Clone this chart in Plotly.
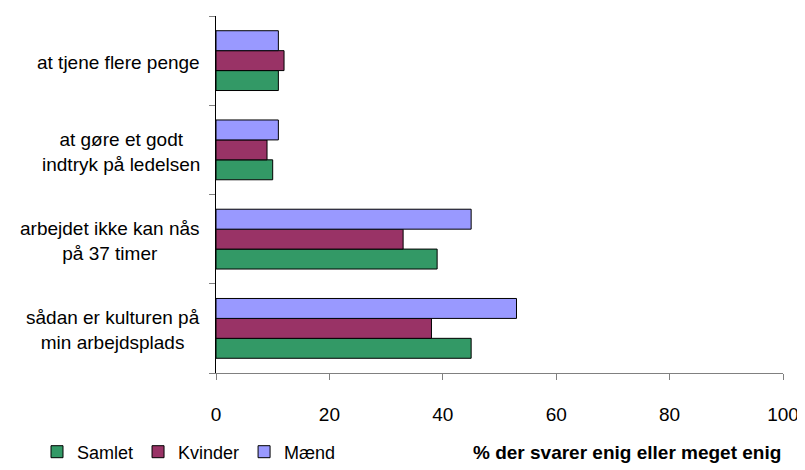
import plotly.graph_objects as go

# categories, top to bottom as they appear in the chart
categories = [
    "at tjene flere penge",
    "at gøre et godt<br>indtryk på ledelsen",
    "arbejdet ikke kan nås<br>på 37 timer",
    "sådan er kulturen på<br>min arbejdsplads",
]
samlet = [11, 10, 39, 45]
kvinder = [12, 9, 33, 38]
maend = [11, 11, 45, 53]

x_ticks = [0, 20, 40, 60, 80, 100]
x_title = "% der svarer enig eller meget enig"

FONT = "Liberation Sans, Arial, sans-serif"

series = [
    ("Samlet", samlet, "#339966"),
    ("Kvinder", kvinder, "#993366"),
    ("Mænd", maend, "#9999FF"),
]

fig = go.Figure()
for name, values, color in series:
    fig.add_trace(go.Bar(
        y=categories,
        x=values,
        orientation="h",
        name=name,
        marker=dict(color=color, line=dict(color="#000000", width=1)),
    ))

# category labels, centred lines, right aligned block
for cat in categories:
    fig.add_annotation(
        x=0, xref="paper", y=cat, yref="y",
        text=cat, showarrow=False,
        xanchor="right", yanchor="middle", align="center",
        xshift=-14, yshift=-2,
        font=dict(family=FONT, size=19, color="#000000"),
    )

fig.add_annotation(
    x=1, xref="paper", y=-0.2213, yref="paper",
    text="<b>" + x_title + "</b>", showarrow=False,
    xanchor="right", yanchor="middle",
    font=dict(family=FONT, size=19, color="#000000"),
)

# the page body has an 8px margin, so the figure is a bit smaller than the window
fig.update_layout(
    width=797,
    height=462,
    barmode="group",
    bargap=0.33,
    bargroupgap=0,
    plot_bgcolor="white",
    paper_bgcolor="white",
    margin=dict(l=208, r=22, t=8, b=97, autoexpand=False),
    font=dict(family=FONT, size=19, color="#000000"),
    showlegend=True,
    legend=dict(
        orientation="h",
        xref="container", yref="container",
        x=29 / 797, xanchor="left",
        y=18 / 462, yanchor="middle",
        font=dict(family=FONT, size=18),
        itemwidth=30,
        traceorder="normal",
    ),
    xaxis=dict(
        range=[0, 100],
        tickvals=x_ticks,
        showgrid=False,
        zeroline=False,
        showline=True,
        linecolor="#808080",
        linewidth=1,
        ticks="outside",
        ticklen=6,
        tickcolor="#808080",
        ticklabelstandoff=18,
    ),
    yaxis=dict(
        type="category",
        categoryorder="array",
        categoryarray=categories[::-1],
        showgrid=False,
        zeroline=False,
        showline=True,
        linecolor="#000000",
        linewidth=1,
        ticks="outside",
        ticklen=6,
        tickcolor="#808080",
        tickson="boundaries",
        showticklabels=False,
    ),
)

fig.write_html("out.html")
